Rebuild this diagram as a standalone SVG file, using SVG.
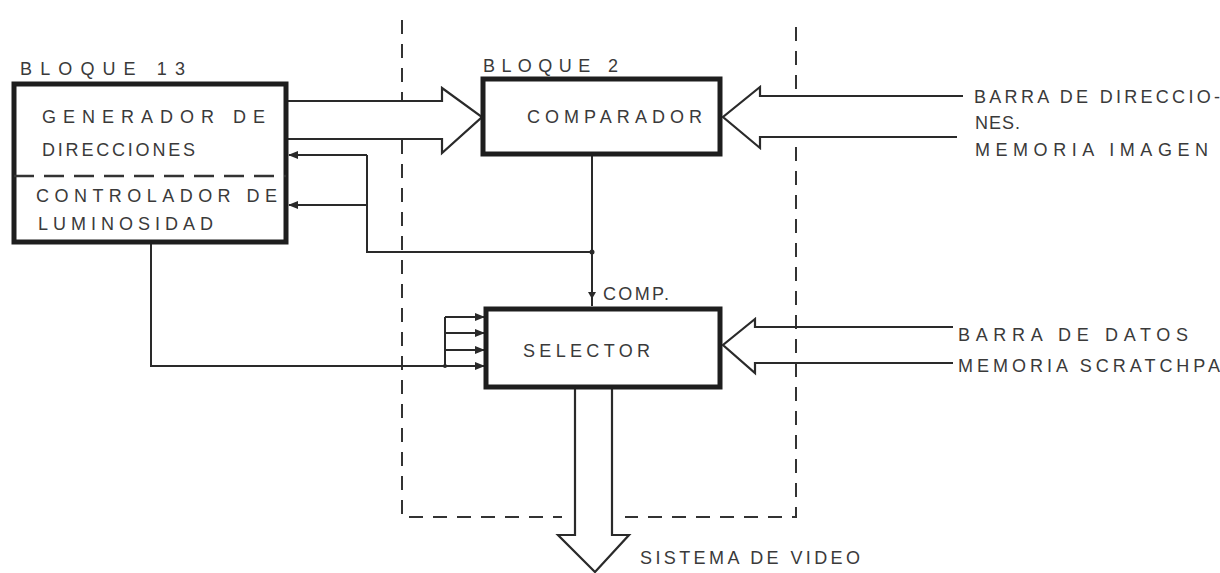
<svg xmlns="http://www.w3.org/2000/svg" width="1220" height="573" viewBox="0 0 1220 573">
<style>
.box{fill:#fff;stroke:#1e1e1e;stroke-width:5}
.ln{fill:none;stroke:#2a2a2a;stroke-width:2}
.bus{fill:#fff;stroke:#2a2a2a;stroke-width:2.2;stroke-linejoin:miter}
.dash{fill:none;stroke:#333;stroke-width:2;stroke-dasharray:14 10}
.t{font-family:"Liberation Sans",Arial,sans-serif;font-size:18px;fill:#3a3a3a}
</style>
<defs>
<marker id="ah" markerWidth="10" markerHeight="8" refX="9" refY="4" orient="auto" markerUnits="userSpaceOnUse">
<path d="M0,0 L10,4 L0,8 Z" fill="#2a2a2a"/>
</marker>
</defs>
<rect width="1220" height="573" fill="#fff"/>

<g id="frame">
<path class="dash" d="M402,20 V517 H562"/>
<path class="dash" d="M796,27 V517 H625"/>
</g>

<g id="connectors">
<!-- big bus block13 -> comparador -->
<path class="bus" d="M288,101 H442 V88 L482,117 L442,153 V139 H288"/>
<!-- big bus external -> comparador -->
<path class="bus" d="M963,96 H760 V87 L723,117 L760,148 V137 H957"/>
<!-- big bus external -> selector -->
<path class="bus" style="fill:none" d="M953,327 H755 V319 L723,345 L755,373 V363 H953"/>
<!-- selector output bus -->
<path class="bus" d="M575,389 V535 H558 L595,572 L629,535 H612 V389"/>
<!-- comparador to selector -->
<path class="ln" d="M592,156 V306"/>
<path d="M588,292 L596,292 L592,299 Z" fill="#2a2a2a"/>
<circle cx="592" cy="252" r="2.5" fill="#2a2a2a"/>
<!-- feedback to block 13 -->
<path class="ln" d="M592,252 H367 V155"/>
<path class="ln" d="M367,155 H289" marker-end="url(#ah)"/>
<path class="ln" d="M367,205 H289" marker-end="url(#ah)"/>
<!-- luminosity to selector -->
<path class="ln" d="M151,243 V366 H445"/>
<path class="ln" d="M445,366 V317"/>
<path class="ln" d="M445,317 H484" marker-end="url(#ah)"/>
<path class="ln" d="M445,333 H484" marker-end="url(#ah)"/>
<path class="ln" d="M445,350 H484" marker-end="url(#ah)"/>
<path class="ln" d="M445,366 H484" marker-end="url(#ah)"/>
<circle cx="445" cy="366" r="2" fill="#2a2a2a"/>
</g>

<g id="bloque13">
<text class="t" x="20" y="75" textLength="165" lengthAdjust="spacing">BLOQUE 13</text>
<rect class="box" x="14" y="84" width="272" height="158"/>
<line x1="14" y1="176" x2="286" y2="176" stroke="#333" stroke-width="2.5" stroke-dasharray="20 10"/>
<text class="t" x="42" y="123" textLength="223" lengthAdjust="spacing">GENERADOR DE</text>
<text class="t" x="42" y="156" textLength="153" lengthAdjust="spacing">DIRECCIONES</text>
<text class="t" x="36" y="202" textLength="241" lengthAdjust="spacing">CONTROLADOR DE</text>
<text class="t" x="38" y="230" textLength="175" lengthAdjust="spacing">LUMINOSIDAD</text>
</g>

<g id="comparador">
<text class="t" x="483" y="72" textLength="135" lengthAdjust="spacing">BLOQUE 2</text>
<rect class="box" x="483" y="79" width="237" height="75"/>
<text class="t" x="527" y="123" textLength="175" lengthAdjust="spacing">COMPARADOR</text>
</g>

<g id="selector">
<text class="t" x="603" y="300" textLength="66" lengthAdjust="spacing">COMP.</text>
<rect class="box" x="486" y="309" width="234" height="78"/>
<text class="t" x="523" y="357" textLength="127" lengthAdjust="spacing">SELECTOR</text>
</g>

<g id="labels">
<text class="t" x="974" y="103" textLength="246" lengthAdjust="spacing">BARRA DE DIRECCIO-</text>
<text class="t" x="975" y="129" textLength="45" lengthAdjust="spacing">NES.</text>
<text class="t" x="975" y="156" textLength="233" lengthAdjust="spacing">MEMORIA IMAGEN</text>
<text class="t" x="958" y="341" textLength="230" lengthAdjust="spacing">BARRA DE DATOS</text>
<text class="t" x="958" y="372" textLength="262" lengthAdjust="spacing">MEMORIA SCRATCHPA</text>
<text class="t" x="640" y="564" textLength="220" lengthAdjust="spacing">SISTEMA DE VIDEO</text>
</g>
</svg>
